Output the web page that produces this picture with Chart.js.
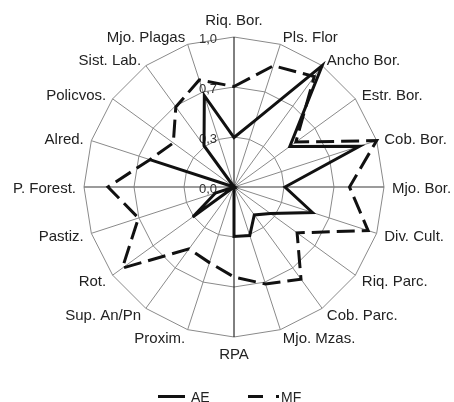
<!DOCTYPE html>
<html>
<head>
<meta charset="utf-8">
<script src="https://cdn.jsdelivr.net/npm/chart.js@4.4.1/dist/chart.umd.min.js"></script>
<style>
  html, body { margin: 0; padding: 0; background: #fff; overflow: hidden; }
  #wrap { position: relative; width: 454px; height: 402px; }
</style>
</head>
<body>
<div id="wrap"><canvas id="c"></canvas></div>
<script>
const categories = ['Riq. Bor.', 'Pls. Flor', 'Ancho Bor.', 'Estr. Bor.', 'Cob. Bor.', 'Mjo. Bor.',
  'Div. Cult.', 'Riq. Parc.', 'Cob. Parc.', 'Mjo. Mzas.', 'RPA', 'Proxim.', 'Sup. An/Pn', 'Rot.',
  'Pastiz.', 'P. Forest.', 'Alred.', 'Policvos.', 'Sist. Lab.', 'Mjo. Plagas'];
const seriesAE = [0.33, 0.47, 1.00, 0.46, 0.88, 0.34, 0.55, 0.30, 0.23, 0.34,
  0.33, 0.00, 0.00, 0.34, 0.13, 0.00, 0.59, 0.00, 0.34, 0.64];
const seriesMF = [0.67, 0.85, 0.91, 0.51, 1.00, 0.77, 0.94, 0.52, 0.76, 0.68,
  0.60, 0.53, 0.51, 0.92, 0.67, 0.84, 0.59, 0.50, 0.66, 0.75];
const tickLabels = ['0,0', '0,3', '0,7', '1,0'];
const seriesNames = ['AE', 'MF'];

const FONT = '"Liberation Sans", Arial, sans-serif';
Chart.defaults.font.family = FONT;
Chart.defaults.color = '#222';

// value-axis labels, left of the vertical axis
const tickLabelPlugin = {
  id: 'tickLabelPlugin',
  beforeDatasetsDraw(chart) {
    const s = chart.scales.r;
    const ctx = chart.ctx;
    ctx.save();
    ctx.font = '13px ' + FONT;
    ctx.fillStyle = '#333';
    ctx.textAlign = 'right';
    ctx.textBaseline = 'middle';
    s.ticks.forEach((t, i) => {
      const d = s.getDistanceFromCenterForValue(t.value);
      if (tickLabels[i] !== undefined) ctx.fillText(tickLabels[i], s.xCenter - 17, s.yCenter - d + 2);
    });
    ctx.restore();
  }
};

// category labels, vertically centred on their spoke like the original
const pointLabelPlugin = {
  id: 'pointLabelPlugin',
  afterDraw(chart) {
    const s = chart.scales.r;
    const ctx = chart.ctx;
    const n = chart.data.labels.length;
    ctx.save();
    ctx.font = '15px ' + FONT;
    ctx.fillStyle = '#222';
    ctx.textBaseline = 'middle';
    chart.data.labels.forEach((lab, i) => {
      const p = s.getPointPosition(i, s.drawingArea + 8);
      const deg = Math.round(i * 360 / n);
      let y = p.y + 1.5;
      if (deg === 0) { ctx.textAlign = 'center'; y = p.y - 8; }
      else if (deg === 180) { ctx.textAlign = 'center'; y = p.y + 10; }
      else if (deg < 180) ctx.textAlign = 'left';
      else ctx.textAlign = 'right';
      ctx.fillText(lab, p.x, y);
    });
    ctx.restore();
  }
};

// legend below the radar, line samples styled from the datasets
const legendPlugin = {
  id: 'legendPlugin',
  afterDraw(chart) {
    const ctx = chart.ctx;
    const y = 396.5;
    const items = [
      { x0: 158, x1: 185, tx: 191, dash: [] },
      { x0: 248, x1: 279, tx: 281, dash: [15, 13] }
    ];
    ctx.save();
    chart.data.datasets.forEach((ds, i) => {
      const it = items[i];
      ctx.beginPath();
      ctx.setLineDash(it.dash);
      ctx.strokeStyle = ds.borderColor;
      ctx.lineWidth = ds.borderWidth;
      ctx.moveTo(it.x0, y);
      ctx.lineTo(it.x1, y);
      ctx.stroke();
      ctx.setLineDash([]);
      ctx.font = '14px ' + FONT;
      ctx.fillStyle = '#222';
      ctx.textAlign = 'left';
      ctx.textBaseline = 'alphabetic';
      ctx.fillText(ds.label, it.tx, 401.5);
    });
    ctx.restore();
  }
};

new Chart(document.getElementById('c'), {
  type: 'radar',
  data: {
    labels: categories,
    datasets: [
      { label: seriesNames[0], data: seriesAE, borderColor: '#111', borderWidth: 3,
        backgroundColor: 'transparent', fill: false, pointRadius: 0, tension: 0 },
      { label: seriesNames[1], data: seriesMF, borderColor: '#111', borderWidth: 3,
        borderDash: [18, 7], backgroundColor: 'transparent', fill: false, pointRadius: 0, tension: 0 }
    ]
  },
  options: {
    responsive: true,
    maintainAspectRatio: false,
    animation: false,
    layout: { padding: { left: 84, right: 70, top: 37, bottom: 65 } },
    plugins: {
      legend: { display: false },
      tooltip: { enabled: false }
    },
    scales: {
      r: {
        min: 0,
        max: 1,
        ticks: { stepSize: 1 / 3, display: false },
        grid: { circular: false, color: '#8a8a8a', lineWidth: 1 },
        angleLines: {
          color: (ctx) => (ctx.index === 0 || ctx.index === 10) ? '#000' : ((ctx.index === 5 || ctx.index === 15) ? '#7a7a7a' : '#8a8a8a'),
          lineWidth: (ctx) => (ctx.index === 5 || ctx.index === 15) ? 1.5 : 1
        },
        pointLabels: { display: false }
      }
    }
  },
  plugins: [tickLabelPlugin, pointLabelPlugin, legendPlugin]
});
</script>
</body>
</html>
